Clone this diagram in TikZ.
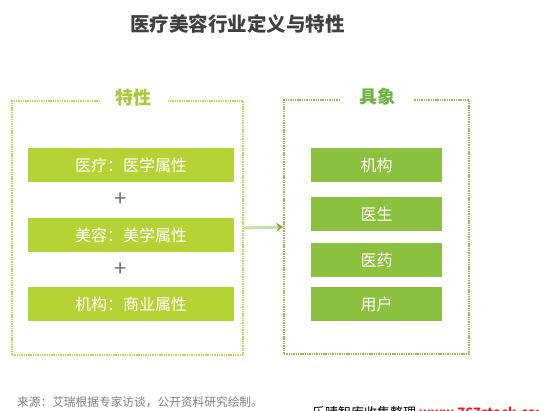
\documentclass[tikz,border=0pt]{standalone}
\usepackage{fontspec}
\setmainfont{Noto Sans CJK SC}
\newfontfamily\cjk{Noto Sans CJK SC}
\usetikzlibrary{arrows.meta}
\definecolor{ltgreen}{HTML}{B5D334}
\definecolor{dkgreen}{HTML}{8CC13F}
\definecolor{lttitle}{HTML}{A8C83A}
\definecolor{dktitle}{HTML}{6DB33F}
\definecolor{ltframe}{HTML}{BFD84A}
\definecolor{dkframe}{HTML}{8DC24A}
\definecolor{titlegray}{HTML}{404040}
\definecolor{footgray}{HTML}{808080}
\definecolor{plusgray}{HTML}{707070}
\definecolor{arrowlt}{HTML}{C8E2A4}
\definecolor{arrowdk}{HTML}{7DB73A}
\definecolor{wmred}{HTML}{E02020}
\tikzset{
  frame/.style={draw, line width=1.4pt, dash pattern=on 1.4pt off 0.9pt, minimum width=#1, inner sep=0pt},
  secttitle/.style={fill=white, inner sep=0pt, minimum width=67pt, minimum height=20pt, font=\cjk\fontsize{18}{18}\selectfont\bfseries},
  lbox/.style={fill=ltgreen, text=white, minimum width=206pt, minimum height=34pt, inner sep=0pt, font=\cjk\fontsize{16}{16}\selectfont},
  rbox/.style={fill=dkgreen, text=white, minimum width=131pt, minimum height=34pt, inner sep=0pt, font=\cjk\fontsize{16}{16}\selectfont},
  plus/.style={text=plusgray, inner sep=0pt, font=\cjk\fontsize{22}{22}\selectfont},
}
\begin{document}
\begin{tikzpicture}[x=1pt, y=-1pt]
\useasboundingbox (0,0) rectangle (539,411);
\fill[white] (0,0) rectangle (539,411);
\node[font=\cjk\fontsize{19.5}{20}\selectfont\bfseries, text=titlegray, inner sep=0pt] (title) at (237.5,24) {医疗美容行业定义与特性};
% frames
\node[frame=231pt, draw=ltframe, minimum height=254pt] (lframe) at (127.5,228) {};
\node[frame=185pt, draw=dkframe, minimum height=254pt] (rframe) at (376.5,227) {};
\node[secttitle, text=lttitle] (ltitle) at (133.5,98) {特性};
\node[secttitle, text=dktitle, minimum width=74pt] (rtitle) at (377,97) {具象};
% left boxes
\node[lbox] (l1) at (131,165.5) {医疗：医学属性};
\node[plus] (p1) at (121,200) {+};
\node[lbox] (l2) at (131,235) {美容：美学属性};
\node[plus] (p2) at (121,270) {+};
\node[lbox] (l3) at (131,304) {机构：商业属性};
% right boxes
\node[rbox] (r1) at (376.5,165) {机构};
\node[rbox] (r2) at (376.5,214) {医生};
\node[rbox] (r3) at (376.5,260) {医药};
\node[rbox] (r4) at (376.5,304) {用户};
% arrow
\draw[arrowlt, line width=3pt, -{Stealth[length=7pt, width=9pt, color=arrowdk, fill=arrowdk]}] (lframe.east) -- (rframe.west);
% footer
\node[anchor=west, text=footgray, inner sep=0pt, font=\cjk\fontsize{11.7}{12}\selectfont] (src) at (17,402) {来源：艾瑞根据专家访谈，公开资料研究绘制。};
\node[anchor=west, inner sep=0pt, font=\cjk\fontsize{13}{13}\selectfont] (wm) at (312,413) {乐晴智库收集整理 \textcolor{wmred}{\bfseries www.767stock.com}};
\end{tikzpicture}
\end{document}
